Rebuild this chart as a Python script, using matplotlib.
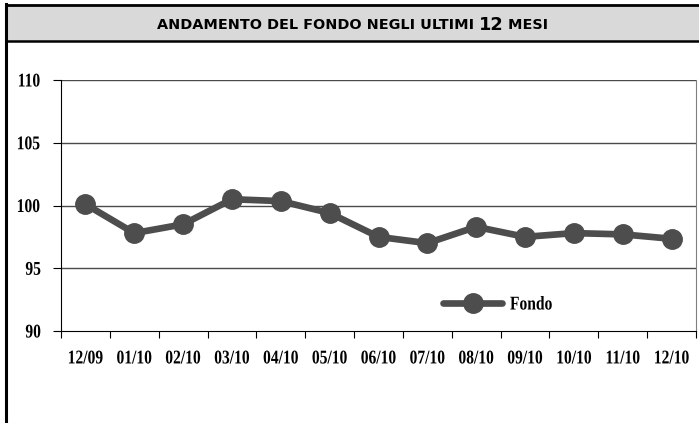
import matplotlib
matplotlib.use("Agg")
import matplotlib.pyplot as plt
from matplotlib.patches import Rectangle
from matplotlib.lines import Line2D
from matplotlib.patheffects import AbstractPathEffect
from matplotlib.transforms import Affine2D
from matplotlib import font_manager

months = ["12/09", "01/10", "02/10", "03/10", "04/10", "05/10", "06/10",
          "07/10", "08/10", "09/10", "10/10", "11/10", "12/10"]
fondo = [100.1, 97.8, 98.5, 100.5, 100.35, 99.4, 97.5,
         97.0, 98.3, 97.5, 97.8, 97.7, 97.35]
y_ticks = [90, 95, 100, 105, 110]

LINE = "#4D4D4D"
W, H = 699, 423
available = {f.name for f in font_manager.fontManager.ttflist}
serif = "Liberation Serif" if "Liberation Serif" in available else "DejaVu Serif"


class Condense(AbstractPathEffect):
    """squash text horizontally around its own centre (narrow serif look)"""

    def __init__(self, sx=0.8):
        super().__init__()
        self.sx = sx

    def draw_path(self, renderer, gc, tpath, affine, rgbFace=None):
        ext = tpath.get_extents()
        cx = (ext.x0 + ext.x1) / 2
        t = Affine2D().translate(-cx, 0).scale(self.sx, 1).translate(cx, 0) + affine
        renderer.draw_path(gc, tpath, t, rgbFace)


narrow = [Condense(0.8)]
lab_font = dict(family=serif, fontsize=14, fontweight="bold", path_effects=narrow)

fig = plt.figure(figsize=(W / 100, H / 100), dpi=100)
fig.patch.set_facecolor("white")

# frame + title band
fig.add_artist(Rectangle((6 / W, 1 - 41 / H), 1, 35 / H, transform=fig.transFigure,
                         facecolor="#D9D9D9", edgecolor="none"))
fig.add_artist(Line2D([6 / W, 1], [1 - 5.5 / H] * 2, transform=fig.transFigure, color="black", lw=2.0))
fig.add_artist(Line2D([6 / W, 1], [1 - 41 / H] * 2, transform=fig.transFigure, color="black", lw=1.8))
fig.add_artist(Line2D([6 / W] * 2, [0, 1 - 4.5 / H], transform=fig.transFigure, color="black", lw=2.2))

ty = 1 - 25 / H
t_font = dict(fontweight="bold", family="DejaVu Sans", color="black", va="center", ha="left")
parts = [fig.text(0, ty, "ANDAMENTO DEL FONDO NEGLI ULTIMI ", fontsize=10.4, **t_font),
         fig.text(0, ty, "12", fontsize=12.8, **t_font),
         fig.text(0, ty, " MESI", fontsize=10.4, **t_font)]
renderer = fig.canvas.get_renderer()
widths = [p.get_window_extent(renderer).width for p in parts]
x0 = (W + 6) / 2 - sum(widths) / 2
for p, w in zip(parts, widths):
    p.set_x(x0 / W)
    x0 += w

ax = fig.add_axes([61 / W, 1 - 331 / H, 635 / W, 251 / H])
x = list(range(len(months)))
ax.plot(x, fondo, color=LINE, lw=4.8, marker="o", markersize=14, label="Fondo",
        solid_capstyle="round")

ax.set_xlim(-0.5, len(months) - 0.5)
ax.set_ylim(90, 110)
ax.set_yticks(y_ticks)
ax.set_yticklabels([str(v) for v in y_ticks], **lab_font)
for v in y_ticks[1:]:
    ax.axhline(v, color="#4A4A4A", lw=1.0, zorder=0)

ax.set_xticks([i - 0.5 for i in x] + [len(months) - 0.5])
ax.set_xticklabels([])
ax.set_xticks(x, minor=True)
ax.set_xticklabels(months, minor=True, **lab_font)
ax.tick_params(axis="x", which="major", length=5, direction="out", color="black")
ax.tick_params(axis="x", which="minor", length=0, pad=14)
ax.tick_params(axis="y", length=6, direction="out", pad=7)

ax.spines["top"].set_visible(False)
ax.spines["right"].set_color("#808080")
ax.spines["left"].set_color("black")
ax.spines["bottom"].set_color("black")

leg = ax.legend(loc="lower right", bbox_to_anchor=(0.81, 0.0), frameon=False,
                prop={"family": serif, "size": 14, "weight": "bold"}, handlelength=3.0,
                handletextpad=0.15)
for t in leg.get_texts():
    t.set_path_effects(narrow)

fig.savefig("out.png", dpi=100, facecolor="white")
